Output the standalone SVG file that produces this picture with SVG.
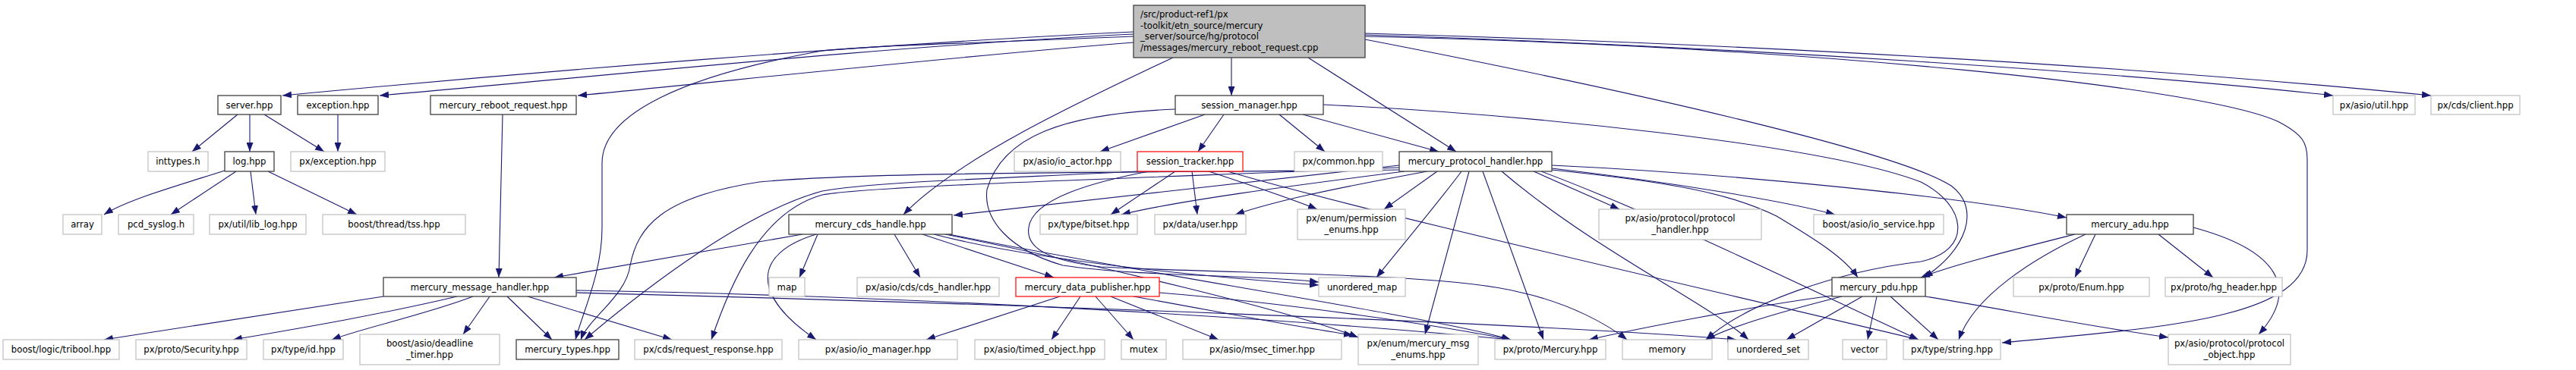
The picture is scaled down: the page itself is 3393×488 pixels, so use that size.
<svg xmlns="http://www.w3.org/2000/svg" width="3393" height="488" viewBox="0 0 3393 488">
<defs>
<marker id="ah" markerWidth="12" markerHeight="9" refX="12" refY="4.5" orient="auto" markerUnits="userSpaceOnUse"><path d="M0,0 L12,4.5 L0,9 z" fill="#191970"/></marker>
<style>
.b rect{fill:#fff;stroke:#404040;stroke-width:1.3}
.g rect{fill:#fff;stroke:#bfbfbf;stroke-width:1.2}
.r rect{fill:#fff;stroke:#ff0000;stroke-width:1.2}
.root rect{fill:#bfbfbf;stroke:#404040;stroke-width:1.3}
text{font-family:"DejaVu Sans","Liberation Sans",sans-serif;font-size:11.7px;fill:#000;text-anchor:middle}
.root text{text-anchor:start}
#edges path{fill:none;stroke:#191970;stroke-width:1.1;marker-end:url(#ah)}
</style>
</defs>
<rect width="3393" height="488" fill="#fff"/>
<g id="edges">
<path d="M1493,42 C1150,58 700,95 372,126"/>
<path d="M1493,45 C1150,62 800,100 500,126"/>
<path d="M1493,56 C1250,75 950,108 761,126"/>
<path d="M1493,48 C1250,58 1150,60 1083,67 C900,100 793,150 793,215 L793,300 C793,360 768,410 758,448"/>
<path d="M1622,76 L1622,126"/>
<path d="M1545,76 C1420,135 1260,210 1190,283"/>
<path d="M1723,76 L1918,200"/>
<path d="M1798,46 C2300,62 2800,96 3073,126"/>
<path d="M1798,44 C2300,58 2800,86 3202,126"/>
<path d="M1798,48 C2400,62 2900,115 3000,160 C3035,178 3039,190 3039,210 L3039,330 C3039,420 2850,432 2637,452"/>
<path d="M1798,52 C2150,120 2500,200 2570,245 C2610,275 2590,330 2534,366"/>
<path d="M313,151 L253,200"/>
<path d="M329,151 L329,200"/>
<path d="M348,151 L427,200"/>
<path d="M445,151 L445,200"/>
<path d="M296,225 C250,240 170,262 137,283"/>
<path d="M311,226 L225,283"/>
<path d="M330,226 L337,283"/>
<path d="M353,226 L470,283"/>
<path d="M662,151 L657,366"/>
<path d="M1587,151 L1449,200"/>
<path d="M1612,151 L1578,200"/>
<path d="M1685,151 L1745,200"/>
<path d="M1716,151 L1895,200"/>
<path d="M1743,138 C2000,150 2400,190 2530,240 C2590,270 2600,330 2530,345 C2420,358 2300,400 2247,448"/>
<path d="M1548,144 C1400,150 1320,180 1300,250 C1295,290 1330,330 1400,350 C1500,365 1650,362 1737,372"/>
<path d="M1548,226 L1463,283"/>
<path d="M1570,226 L1577,283"/>
<path d="M1592,226 C1650,245 1700,262 1735,276"/>
<path d="M1500,226 C1300,236 1150,240 1083,252 C980,280 850,380 770,448"/>
<path d="M1617,226 C1800,280 2200,370 2527,448"/>
<path d="M1513,226 C1440,240 1360,262 1355,300 C1350,330 1390,345 1450,352 C1650,362 1900,360 2000,385 C2070,400 2120,430 2143,448"/>
<path d="M1843,218 C1650,240 1450,262 1256,284"/>
<path d="M1850,226 C1700,245 1550,265 1477,283"/>
<path d="M1880,226 C1750,250 1680,265 1627,283"/>
<path d="M1893,226 L1823,276"/>
<path d="M1925,226 C1900,260 1850,320 1813,366"/>
<path d="M1935,226 L1877,441"/>
<path d="M1953,226 L2033,448"/>
<path d="M1978,226 C2100,330 2250,400 2303,448"/>
<path d="M2020,226 L2133,276"/>
<path d="M2044,222 C2200,240 2350,265 2417,283"/>
<path d="M2044,218 C2300,230 2600,262 2722,287"/>
<path d="M2044,224 C2200,240 2280,255 2340,285 C2390,315 2430,340 2447,366"/>
<path d="M2030,226 C2200,290 2400,390 2527,448"/>
<path d="M1843,224 C1500,228 1150,226 1000,240 C870,260 840,300 830,350 C825,390 775,420 765,448"/>
<path d="M1843,221 C1500,235 1150,245 1083,257 C1000,280 960,380 937,448"/>
<path d="M1057,309 L730,366"/>
<path d="M1077,309 L1053,366"/>
<path d="M1178,309 L1212,366"/>
<path d="M1215,309 L1388,366"/>
<path d="M1075,309 C990,335 990,390 1075,448"/>
<path d="M1230,309 C1350,340 1550,362 1737,376"/>
<path d="M1250,309 C1500,360 1900,420 1990,448"/>
<path d="M1245,309 C1450,350 1700,410 1789,445"/>
<path d="M505,391 L137,448"/>
<path d="M602,391 C500,415 400,432 307,448"/>
<path d="M623,391 C560,415 480,432 437,448"/>
<path d="M645,391 L610,441"/>
<path d="M668,391 L727,448"/>
<path d="M695,391 L885,448"/>
<path d="M759,383 C1200,390 1700,420 1990,448"/>
<path d="M759,386 C1300,400 2000,425 2287,448"/>
<path d="M1396,391 L1220,448"/>
<path d="M1423,391 L1385,448"/>
<path d="M1443,391 L1493,448"/>
<path d="M1463,391 L1605,448"/>
<path d="M1493,391 C1600,410 1700,430 1782,442"/>
<path d="M1527,386 C1700,400 1900,430 1990,448"/>
<path d="M2733,309 C2650,330 2570,350 2530,366"/>
<path d="M2747,309 C2680,340 2600,390 2580,448"/>
<path d="M2760,309 L2733,366"/>
<path d="M2843,309 L2915,366"/>
<path d="M2889,300 C3000,330 3030,380 2975,441"/>
<path d="M2426,391 C2350,410 2280,430 2247,448"/>
<path d="M2453,391 L2353,448"/>
<path d="M2472,391 L2460,448"/>
<path d="M2490,391 L2553,448"/>
<path d="M2536,391 C2650,410 2750,430 2856,445"/>
<path d="M2413,390 C2300,405 2150,435 2093,448"/>
</g>
<g id="n_root" class="root"><rect x="1493" y="7" width="305" height="69"/><text x="1502" y="23">/src/product-ref1/px</text><text x="1502" y="38">-toolkit/etn_source/mercury</text><text x="1502" y="52">_server/source/hg/protocol</text><text x="1502" y="67">/messages/mercury_reboot_request.cpp</text></g>
<g id="n_server" class="b"><rect x="287" y="126" width="83" height="25"/><text x="328.5" y="142.5">server.hpp</text></g>
<g id="n_exception" class="b"><rect x="392" y="126" width="106" height="25"/><text x="445" y="142.5">exception.hpp</text></g>
<g id="n_mrr" class="b"><rect x="567" y="126" width="192" height="25"/><text x="663" y="142.5">mercury_reboot_request.hpp</text></g>
<g id="n_sm" class="b"><rect x="1548" y="126" width="195" height="25"/><text x="1645.5" y="142.5">session_manager.hpp</text></g>
<g id="n_util" class="g"><rect x="3073" y="126" width="108" height="25"/><text x="3127" y="142.5">px/asio/util.hpp</text></g>
<g id="n_client" class="g"><rect x="3202" y="126" width="117" height="25"/><text x="3260.5" y="142.5">px/cds/client.hpp</text></g>
<g id="n_inttypes" class="g"><rect x="195" y="200" width="79" height="26"/><text x="234.5" y="217">inttypes.h</text></g>
<g id="n_log" class="b"><rect x="296" y="200" width="65" height="26"/><text x="328.5" y="217">log.hpp</text></g>
<g id="n_pxexc" class="g"><rect x="383" y="200" width="124" height="26"/><text x="445" y="217">px/exception.hpp</text></g>
<g id="n_ioactor" class="g"><rect x="1336" y="200" width="140" height="26"/><text x="1406" y="217">px/asio/io_actor.hpp</text></g>
<g id="n_st" class="r"><rect x="1498" y="200" width="139" height="26"/><text x="1567.5" y="217">session_tracker.hpp</text></g>
<g id="n_common" class="g"><rect x="1705" y="200" width="116" height="26"/><text x="1763" y="217">px/common.hpp</text></g>
<g id="n_mph" class="b"><rect x="1843" y="200" width="201" height="26"/><text x="1943.5" y="217">mercury_protocol_handler.hpp</text></g>
<g id="n_array" class="g"><rect x="83" y="283" width="51" height="26"/><text x="108.5" y="300">array</text></g>
<g id="n_pcd" class="g"><rect x="156" y="283" width="99" height="26"/><text x="205.5" y="300">pcd_syslog.h</text></g>
<g id="n_liblog" class="g"><rect x="276" y="283" width="127" height="26"/><text x="339.5" y="300">px/util/lib_log.hpp</text></g>
<g id="n_tss" class="g"><rect x="425" y="283" width="188" height="26"/><text x="519" y="300">boost/thread/tss.hpp</text></g>
<g id="n_mch" class="b"><rect x="1039" y="283" width="215" height="26"/><text x="1146.5" y="300">mercury_cds_handle.hpp</text></g>
<g id="n_bitset" class="g"><rect x="1370" y="283" width="128" height="26"/><text x="1434" y="300">px/type/bitset.hpp</text></g>
<g id="n_user" class="g"><rect x="1521" y="283" width="120" height="26"/><text x="1581" y="300">px/data/user.hpp</text></g>
<g id="n_perm" class="g"><rect x="1709" y="276" width="142" height="40"/><text x="1780" y="292">px/enum/permission</text><text x="1780" y="307">_enums.hpp</text></g>
<g id="n_ph" class="g"><rect x="2106" y="276" width="214" height="40"/><text x="2213" y="292">px/asio/protocol/protocol</text><text x="2213" y="307">_handler.hpp</text></g>
<g id="n_ios" class="g"><rect x="2389" y="283" width="171" height="26"/><text x="2474.5" y="300">boost/asio/io_service.hpp</text></g>
<g id="n_adu" class="b"><rect x="2722" y="283" width="167" height="26"/><text x="2805.5" y="300">mercury_adu.hpp</text></g>
<g id="n_mmh" class="b"><rect x="505" y="366" width="254" height="25"/><text x="632" y="382.5">mercury_message_handler.hpp</text></g>
<g id="n_map" class="g"><rect x="1013" y="366" width="47" height="25"/><text x="1036.5" y="382.5">map</text></g>
<g id="n_cdsh" class="g"><rect x="1129" y="366" width="187" height="25"/><text x="1222.5" y="382.5">px/asio/cds/cds_handler.hpp</text></g>
<g id="n_mdp" class="r"><rect x="1338" y="366" width="189" height="25"/><text x="1432.5" y="382.5">mercury_data_publisher.hpp</text></g>
<g id="n_umap" class="g"><rect x="1737" y="366" width="114" height="25"/><text x="1794" y="382.5">unordered_map</text></g>
<g id="n_pdu" class="b"><rect x="2413" y="366" width="123" height="25"/><text x="2474.5" y="382.5">mercury_pdu.hpp</text></g>
<g id="n_enum" class="g"><rect x="2652" y="366" width="179" height="25"/><text x="2741.5" y="382.5">px/proto/Enum.hpp</text></g>
<g id="n_hg" class="g"><rect x="2852" y="366" width="154" height="25"/><text x="2929" y="382.5">px/proto/hg_header.hpp</text></g>
<g id="n_tribool" class="g"><rect x="4" y="448" width="153" height="26"/><text x="80.5" y="465">boost/logic/tribool.hpp</text></g>
<g id="n_sec" class="g"><rect x="179" y="448" width="146" height="26"/><text x="252" y="465">px/proto/Security.hpp</text></g>
<g id="n_id" class="g"><rect x="347" y="448" width="105" height="26"/><text x="399.5" y="465">px/type/id.hpp</text></g>
<g id="n_dt" class="g"><rect x="474" y="441" width="184" height="40"/><text x="566" y="457">boost/asio/deadline</text><text x="566" y="472">_timer.hpp</text></g>
<g id="n_types" class="b"><rect x="680" y="448" width="135" height="26"/><text x="747.5" y="465">mercury_types.hpp</text></g>
<g id="n_rr" class="g"><rect x="836" y="448" width="194" height="26"/><text x="933" y="465">px/cds/request_response.hpp</text></g>
<g id="n_iom" class="g"><rect x="1052" y="448" width="209" height="26"/><text x="1156.5" y="465">px/asio/io_manager.hpp</text></g>
<g id="n_timed" class="g"><rect x="1284" y="448" width="171" height="26"/><text x="1369.5" y="465">px/asio/timed_object.hpp</text></g>
<g id="n_mutex" class="g"><rect x="1477" y="448" width="59" height="26"/><text x="1506.5" y="465">mutex</text></g>
<g id="n_msec" class="g"><rect x="1558" y="448" width="209" height="26"/><text x="1662.5" y="465">px/asio/msec_timer.hpp</text></g>
<g id="n_msg" class="g"><rect x="1789" y="441" width="158" height="40"/><text x="1868" y="457">px/enum/mercury_msg</text><text x="1868" y="472">_enums.hpp</text></g>
<g id="n_merc" class="g"><rect x="1969" y="448" width="146" height="26"/><text x="2042" y="465">px/proto/Mercury.hpp</text></g>
<g id="n_memory" class="g"><rect x="2137" y="448" width="118" height="26"/><text x="2196" y="465">memory</text></g>
<g id="n_uset" class="g"><rect x="2276" y="448" width="106" height="26"/><text x="2329" y="465">unordered_set</text></g>
<g id="n_vector" class="g"><rect x="2427" y="448" width="58" height="26"/><text x="2456" y="465">vector</text></g>
<g id="n_string" class="g"><rect x="2507" y="448" width="128" height="26"/><text x="2571" y="465">px/type/string.hpp</text></g>
<g id="n_pobj" class="g"><rect x="2856" y="441" width="161" height="40"/><text x="2936.5" y="457">px/asio/protocol/protocol</text><text x="2936.5" y="472">_object.hpp</text></g>
</svg>
